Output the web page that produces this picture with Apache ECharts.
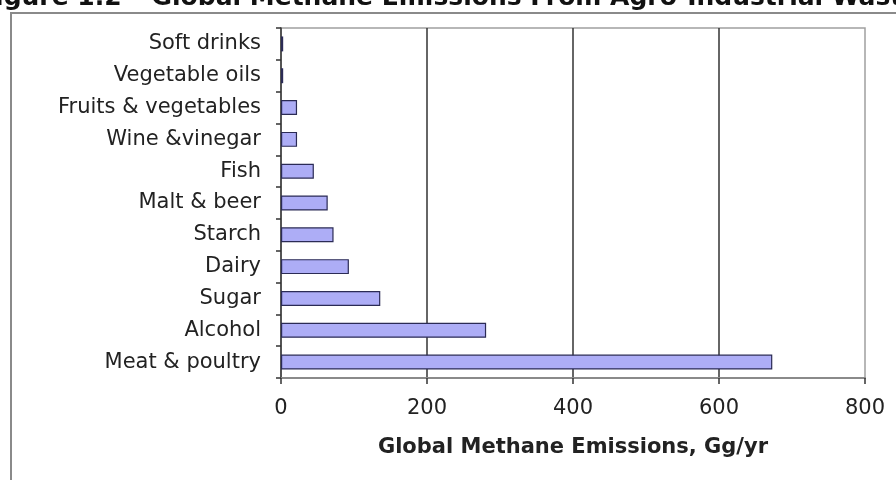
<!DOCTYPE html>
<html>
<head>
<meta charset="utf-8">
<script src="https://cdn.jsdelivr.net/npm/echarts@6/dist/echarts.min.js"></script>
<style>
  html, body { margin: 0; padding: 0; background: #fff; }
  #chart-container { width: 896px; height: 480px; }
</style>
</head>
<body>
<div id="chart-container"></div>
<script>
// data
var categories = ['Soft drinks', 'Vegetable oils', 'Fruits & vegetables', 'Wine &vinegar', 'Fish',
                  'Malt & beer', 'Starch', 'Dairy', 'Sugar', 'Alcohol', 'Meat & poultry'];
var emissions = [3, 3, 22, 22, 45, 64, 72, 93, 136, 281, 673];

var titleText = 'Figure 1.2 \u2013 Global Methane Emissions From Agro-Industrial Wastes';
var axisTitle = 'Global Methane Emissions, Gg/yr';

var dom = document.getElementById('chart-container');
var myChart = echarts.init(dom);

var labelFont = {
  color: '#222',
  fontSize: 21,
  fontFamily: 'DejaVu Sans'
};

var option = {
  animation: false,
  backgroundColor: '#fff',
  title: {
    text: titleText,
    left: -22,
    top: -14,
    padding: 0,
    textStyle: {
      color: '#111',
      fontSize: 25,
      fontWeight: 'bold',
      fontFamily: 'DejaVu Sans'
    }
  },
  graphic: [
    {
      type: 'rect',
      shape: { x: 11, y: 13, width: 900, height: 480 },
      style: { fill: 'none', stroke: '#8a8a8a', lineWidth: 2 },
      silent: true
    }
  ],
  grid: {
    left: 281,
    right: 31,
    top: 28,
    bottom: 102,
    show: true,
    borderColor: '#a0a0a0',
    borderWidth: 1.5,
    containLabel: false
  },
  xAxis: {
    type: 'value',
    min: 0,
    max: 800,
    interval: 200,
    name: axisTitle,
    nameLocation: 'middle',
    nameGap: 59,
    nameTextStyle: {
      color: '#222',
      fontSize: 21,
      fontWeight: 'bold',
      fontFamily: 'DejaVu Sans'
    },
    axisLine: { show: true, lineStyle: { color: '#8a8a8a', width: 2 } },
    axisTick: { show: true, length: 6, lineStyle: { color: '#333', width: 1.5 } },
    axisLabel: Object.assign({ margin: 20 }, labelFont),
    splitLine: {
      show: true,
      showMinLine: false,
      showMaxLine: false,
      lineStyle: { color: '#333', width: 1.5 }
    }
  },
  yAxis: {
    type: 'category',
    inverse: true,
    data: categories,
    axisLine: { show: true, lineStyle: { color: '#333', width: 1.5 } },
    axisTick: { show: true, length: 5, lineStyle: { color: '#333', width: 1.5 } },
    axisLabel: Object.assign({ margin: 20 }, labelFont),
    splitLine: { show: false }
  },
  series: [
    {
      name: 'Emissions',
      type: 'bar',
      data: emissions,
      barCategoryGap: '53%',
      itemStyle: {
        color: '#adadf6',
        borderColor: '#2b2b55',
        borderWidth: 1.2
      }
    }
  ]
};

myChart.setOption(option);
window.addEventListener('resize', function () { myChart.resize(); });
</script>
</body>
</html>
